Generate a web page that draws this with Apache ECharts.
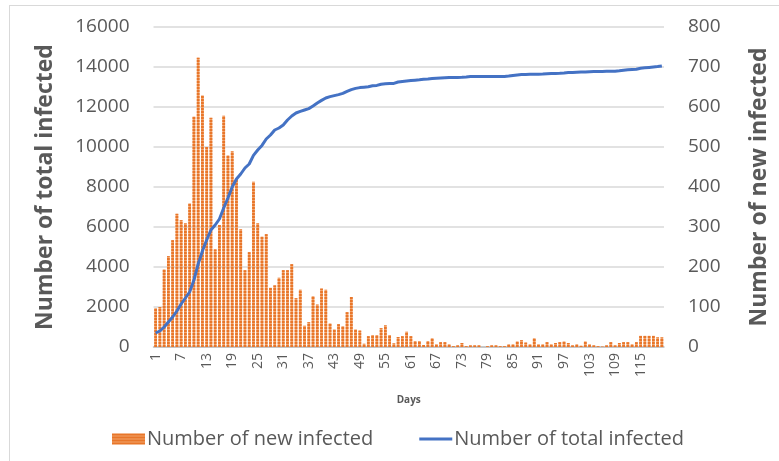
<!DOCTYPE html>
<html>
<head>
<meta charset="utf-8">
<script src="https://cdn.jsdelivr.net/npm/echarts@6/dist/echarts.min.js"></script>
<style>
html,body{margin:0;padding:0;background:#fff;}
#frame{position:absolute;left:9px;top:5px;width:800px;height:500px;border:1px solid #D9D9D9;box-sizing:border-box;}
#chart{position:absolute;left:0;top:0;width:779px;height:461px;}
</style>
</head>
<body>
<div id="frame"></div>
<div id="chart"></div>
<script>
// Days 1..120
const days = Array.from({length: 120}, (_, i) => String(i + 1));

// Number of new infected (right axis)
const newInfected = [
  97, 100, 194, 227, 267, 333, 317, 309, 359, 576,
  723, 629, 500, 573, 244, 305, 578, 479, 489, 420,
  294, 192, 237, 413, 309, 276, 282, 148, 154, 173,
  192, 192, 207, 122, 143, 53, 62, 127, 106, 146,
  143, 59, 44, 57, 52, 87, 125, 44, 41, 8,
  27, 30, 30, 47, 54, 30, 9, 25, 27, 38,
  27, 15, 15, 5, 15, 22, 7, 12, 12, 7,
  2, 4, 10, 2, 4, 4, 4, 0, 2, 4,
  4, 2, 2, 7, 7, 14, 17, 11, 7, 22,
  7, 7, 12, 7, 10, 12, 14, 10, 4, 7,
  3, 14, 7, 4, 2, 1, 4, 12, 4, 10,
  12, 12, 7, 12, 28, 28, 28, 28, 24, 24
];

// Number of total infected (left axis)
const totalInfected = [
  700, 800, 1000, 1250, 1500, 1800, 2150, 2450, 2750, 3350,
  4150, 4800, 5350, 5850, 6100, 6400, 6950, 7450, 8000, 8400,
  8650, 8950, 9150, 9580, 9850, 10080, 10400, 10600, 10850, 10950,
  11100, 11350, 11550, 11700, 11780, 11850, 11920, 12050, 12200, 12330,
  12450, 12520, 12570, 12620, 12680, 12780, 12870, 12930, 12970, 12990,
  13010, 13060, 13080, 13140, 13160, 13170, 13180, 13250, 13280, 13300,
  13320, 13340, 13360, 13385, 13400, 13420, 13440, 13450, 13460, 13470,
  13475, 13480, 13485, 13500, 13520, 13520, 13520, 13520, 13520, 13520,
  13520, 13520, 13525, 13550, 13580, 13600, 13620, 13630, 13635, 13640,
  13640, 13645, 13660, 13670, 13680, 13685, 13700, 13720, 13730, 13740,
  13745, 13750, 13760, 13770, 13775, 13780, 13785, 13785, 13790, 13810,
  13840, 13860, 13880, 13890, 13940, 13960, 13980, 14000, 14020, 14050
];

const seriesNames = ['Number of new infected', 'Number of total infected'];

const txt = '#595959';
const chart = echarts.init(document.getElementById('chart'), null, {renderer: 'canvas'});
chart.setOption({
  animation: false,
  textStyle: {fontFamily: 'Open Sans'},
  legend: {
    bottom: 7,
    left: 107,
    itemWidth: 33,
    itemHeight: 11,
    itemGap: 46,
    textStyle: {fontSize: 20, color: txt, fontFamily: 'Open Sans', padding: [0, 0, 0, -3]},
    data: [
      {name: seriesNames[0], icon: 'rect'},
      {name: seriesNames[1], icon: 'path://M0,0H33V3H0Z'}
    ]
  },
  grid: {left: 153.5, right: 111, top: 27, bottom: 114, containLabel: false},
  xAxis: {
    type: 'category',
    data: days,
    boundaryGap: true,
    axisLine: {lineStyle: {color: '#BFBFBF', width: 1.5}},
    axisTick: {show: false},
    axisLabel: {interval: 5, rotate: 90, fontSize: 14, color: txt, margin: 6},
    name: 'Days',
    nameLocation: 'middle',
    nameGap: 48,
    nameTextStyle: {fontSize: 10, fontWeight: 'bold', color: txt}
  },
  yAxis: [
    {
      type: 'value', min: 0, max: 16000, interval: 2000,
      axisLine: {show: false}, axisTick: {show: false},
      axisLabel: {fontSize: 19, color: txt, margin: 24, formatter: v => String(v)},
      splitLine: {lineStyle: {color: '#D9D9D9', width: 1.5}},
      name: 'Number of total infected',
      nameLocation: 'middle', nameRotate: 90, nameGap: 97,
      nameTextStyle: {fontSize: 23, fontWeight: 'bold', color: txt}
    },
    {
      type: 'value', min: 0, max: 800, interval: 100,
      axisLine: {show: false}, axisTick: {show: false},
      axisLabel: {fontSize: 19, color: txt, margin: 24, formatter: v => String(v)},
      splitLine: {show: false},
      name: 'Number of new infected',
      nameLocation: 'middle', nameRotate: 90, nameGap: 84,
      nameTextStyle: {fontSize: 23, fontWeight: 'bold', color: txt}
    }
  ],
  series: [
    {
      name: seriesNames[0],
      type: 'bar',
      yAxisIndex: 1,
      data: newInfected,
      barCategoryGap: '35%',
      itemStyle: {
        color: '#F2A36B',
        decal: {symbol: 'rect', symbolSize: 1, color: '#E8762A', dashArrayX: [1, 0], dashArrayY: [2, 1], rotation: 0}
      }
    },
    {
      name: seriesNames[1],
      type: 'line',
      yAxisIndex: 0,
      data: totalInfected,
      showSymbol: false,
      symbol: 'none',
      lineStyle: {color: '#4472C4', width: 3},
      itemStyle: {color: '#4472C4'},
      z: 5
    }
  ]
});
</script>
</body>
</html>
